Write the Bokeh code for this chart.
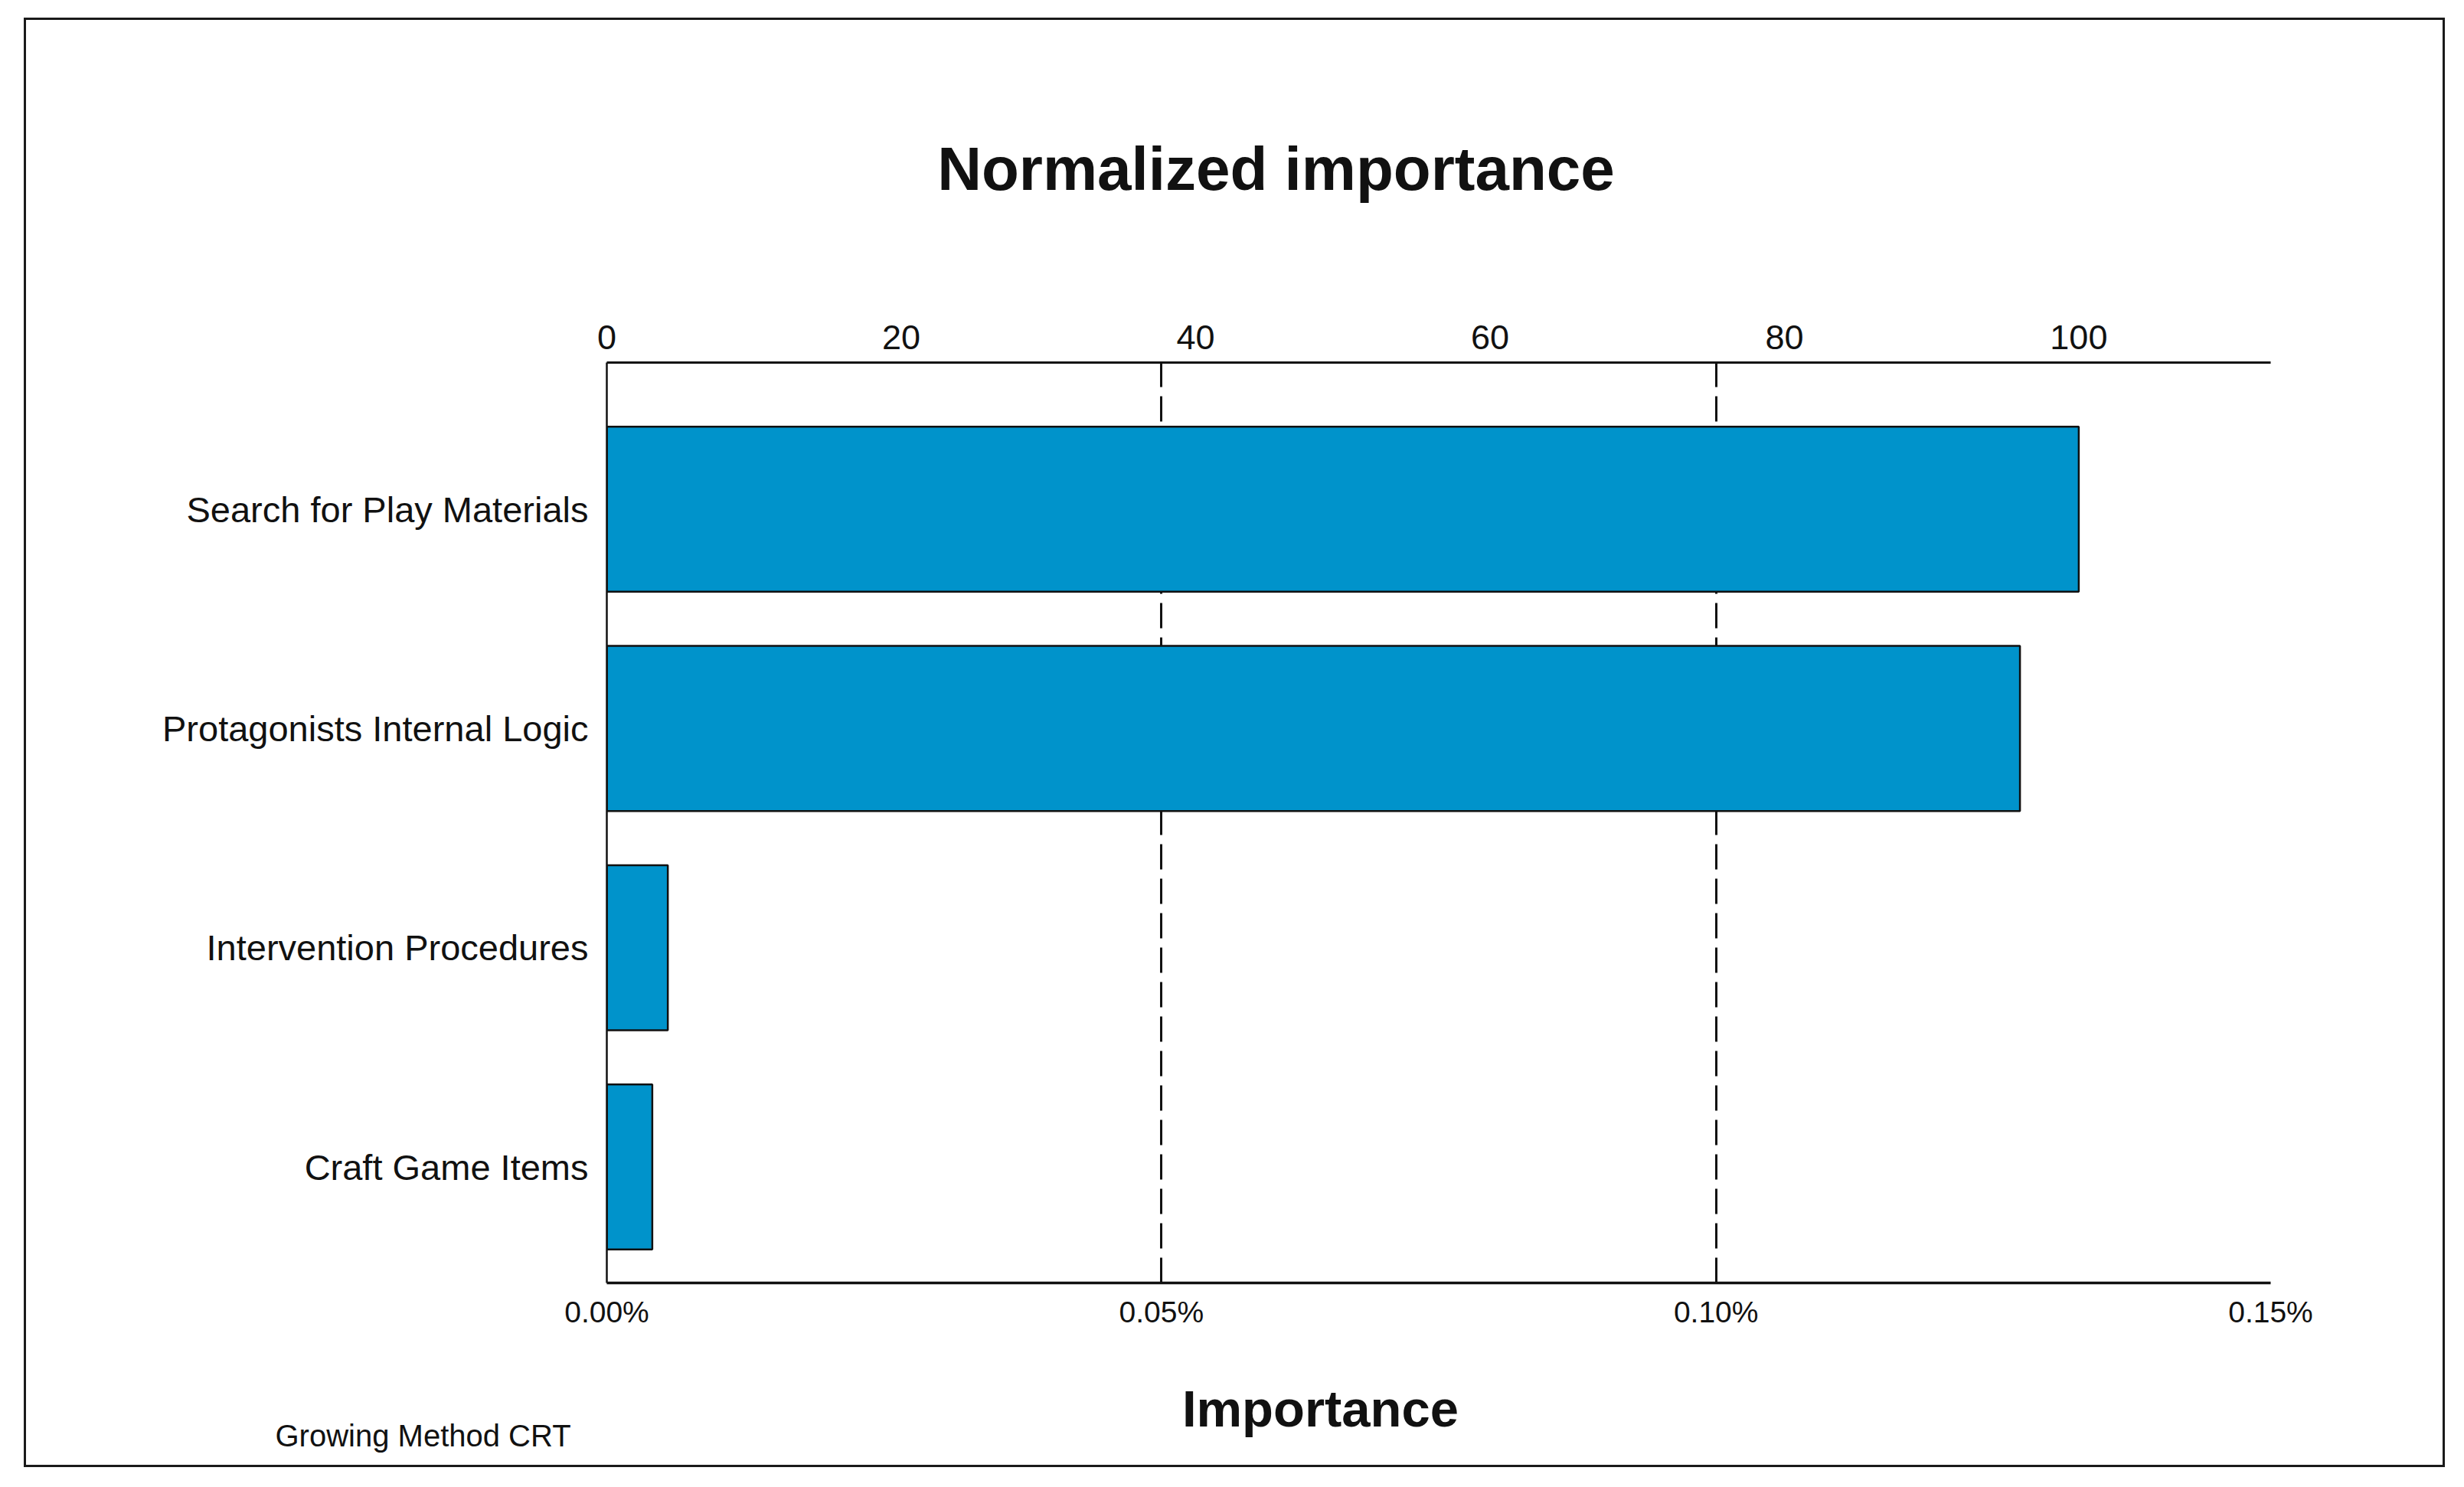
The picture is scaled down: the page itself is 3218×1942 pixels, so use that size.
from bokeh.plotting import figure
from bokeh.models import (Range1d, LinearAxis, FixedTicker, PrintfTickFormatter,
                          Label, ColumnDataSource)
from bokeh.layouts import column
from bokeh.embed import file_html
from bokeh.resources import INLINE

# ---- data ----
categories = ["Search for Play Materials", "Protagonists Internal Logic",
              "Intervention Procedures", "Craft Game Items"]
importance = [0.1327, 0.1274, 0.0055, 0.0041]   # percent
bottom_ticks = [0.0, 0.05, 0.10, 0.15]
top_ticks = [0, 20, 40, 60, 80, 100]
title_text = "Normalized importance"
xlabel_text = "Importance"
footnote_text = "Growing Method CRT"

n = len(categories)
ypos = [n - 1 - i for i in range(n)]
max_imp = max(importance)
normalized = [v / max_imp * 100 for v in importance]

source = ColumnDataSource(dict(y=ypos, right=importance, cat=categories, norm=normalized))

FONT = "Liberation Sans"
INK = "#111111"
W = 3156
TOP_H = 300
MAIN_H = 1419
BOT_H = 168


def band(height):
    b = figure(width=W, height=height, output_backend="svg", toolbar_location=None,
               x_range=Range1d(0, W), y_range=Range1d(0, height),
               x_axis_type=None, y_axis_type=None, min_border=0,
               frame_align=False)
    b.grid.grid_line_color = None
    b.outline_line_color = None
    b.background_fill_color = "white"
    b.border_fill_color = "white"
    return b


# ---- title band ----
top = band(TOP_H)
top.add_layout(Label(x=1632, y=TOP_H - 194, text=title_text,
                     text_font=FONT, text_font_size="80px", text_font_style="bold",
                     text_align="center", text_baseline="middle", text_color=INK))

# ---- main chart ----
p = figure(width=W, height=MAIN_H, output_backend="svg", toolbar_location=None,
           x_range=Range1d(0, 0.15), y_range=Range1d(-0.529, n - 1 + 0.669),
           x_axis_location="below", min_border_left=758, min_border_right=225,
           min_border_top=147, min_border_bottom=MAIN_H - 147 - 1202,
           frame_align=False)
p.outline_line_color = None
p.background_fill_color = "white"
p.border_fill_color = "white"

p.extra_x_ranges = {"norm": Range1d(0, 0.15 / max_imp * 100)}

p.hbar(y="y", right="right", left=0, height=0.753, source=source,
       fill_color="#0093CB", line_color=INK, line_width=2.5)

xa = p.xaxis[0]
xa.ticker = FixedTicker(ticks=bottom_ticks)
xa.formatter = PrintfTickFormatter(format="%.2f%%")
xa.major_tick_line_color = None
xa.minor_tick_line_color = None
xa.axis_line_width = 3.5
xa.axis_line_color = INK
xa.major_label_text_font = FONT
xa.major_label_text_font_size = "39px"
xa.major_label_text_color = INK
xa.major_label_standoff = 10

ta = LinearAxis(x_range_name="norm", ticker=FixedTicker(ticks=top_ticks))
ta.major_tick_line_color = None
ta.minor_tick_line_color = None
ta.axis_line_width = 3
ta.axis_line_color = INK
ta.major_label_text_font = FONT
ta.major_label_text_font_size = "45px"
ta.major_label_text_color = INK
ta.major_label_standoff = 12
p.add_layout(ta, "above")

ya = p.yaxis[0]
ya.ticker = FixedTicker(ticks=ypos)
ya.major_label_overrides = {y: c for y, c in zip(ypos, categories)}
ya.major_tick_line_color = None
ya.minor_tick_line_color = None
ya.axis_line_width = 2.5
ya.axis_line_color = INK
ya.major_label_text_font = FONT
ya.major_label_text_font_size = "47px"
ya.major_label_text_color = INK
ya.major_label_standoff = 18

p.ygrid.grid_line_color = None
p.xgrid.ticker = FixedTicker(ticks=bottom_ticks[1:])
p.xgrid.grid_line_color = INK
p.xgrid.grid_line_width = 3
p.xgrid.grid_line_dash = "33 12"

# ---- bottom band ----
bot = band(BOT_H)
bot.add_layout(Label(x=1690, y=BOT_H - 94, text=xlabel_text,
                     text_font=FONT, text_font_size="67px", text_font_style="bold",
                     text_align="center", text_baseline="middle", text_color=INK))
bot.add_layout(Label(x=325, y=BOT_H - 129, text=footnote_text,
                     text_font=FONT, text_font_size="40px",
                     text_align="left", text_baseline="middle", text_color=INK))

layout = column(top, p, bot, spacing=0)
layout.margin = (23, 0, 0, 31)
layout.styles = {"border": "3px solid #1a1a1a", "background-color": "white"}

open("out.html", "w").write(file_html(layout, INLINE))
